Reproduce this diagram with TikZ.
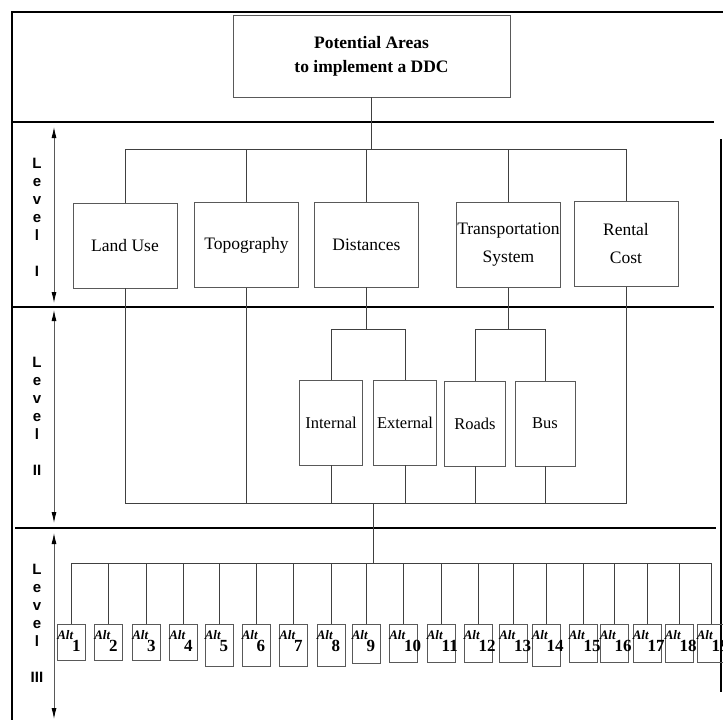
\documentclass[tikz,border=0pt]{standalone}
\usepackage{fontspec}
\setmainfont{Liberation Serif}
\setsansfont{Liberation Sans}
\usetikzlibrary{arrows.meta}
\newcommand{\altlbl}[1]{{\fontsize{13}{13}\selectfont\bfseries\itshape Alt}\kern-1pt\raisebox{-12pt}{\fontsize{17}{17}\selectfont\bfseries #1}}
\newcommand{\lvl}[1]{L\\e\\v\\e\\l\\[18pt]#1}

\begin{document}
\begin{tikzpicture}[x=1pt, y=-1pt,
  box/.style={draw=black!65, line width=0.8pt, inner sep=0pt, align=center, font=\fontsize{17.5}{28}\selectfont},
  boxI/.style={box, minimum width=104, minimum height=85},
  boxII/.style={box, minimum width=63, minimum height=85, font=\fontsize{16.5}{20}\selectfont},
  altbox/.style={draw=black!65, line width=0.8pt, inner sep=0pt, minimum width=28},
  alttxt/.style={inner sep=0pt, anchor=north west},
  conn/.style={draw=black!75, line width=0.8pt},
  sep/.style={line width=1.1pt},
  lvllbl/.style={align=center, font=\sffamily\bfseries\fontsize{15}{18}\selectfont},
  tip/.style={Latex[length=11pt,width=5pt]},
  span/.style={draw=black!65, line width=0.9pt, {Latex[length=11pt,width=5pt,black]}-{Latex[length=11pt,width=5pt,black]}}]
\useasboundingbox (0,0) rectangle (723,720);

\draw[line width=2.5pt] (12,720) -- (12,12) -- (723,12);
\draw[line width=2.5pt] (721,139) -- (721,692);
\draw[sep] (12,122) -- (714,122);
\draw[sep] (12,307) -- (714,307);
\draw[sep] (15,528) -- (716,528);

\node[box, font=\bfseries\fontsize{17.5}{24}\selectfont, minimum width=277, minimum height=82] (goal) at (371.5,56) {Potential Areas\\to implement a DDC};

\node[boxI] (landuse) at (125,245.5) {Land Use};
\node[boxI] (topo) at (246.5,245) {Topography};
\node[boxI] (dist) at (366.5,244.5) {Distances};
\node[boxI] (transp) at (508.5,245) {Transportation\\System};
\node[boxI] (rental) at (626,244) {Rental\\Cost};

\node[boxII] (internal) at (331,422.5) {Internal};
\node[boxII] (external) at (405,422.5) {External};
\node[boxII, minimum width=61] (roads) at (475,423.5) {Roads};
\node[boxII, minimum width=60] (bus) at (545,423.5) {Bus};

\foreach \i/\x/\h in {1/71.5/36, 2/108.5/36, 3/146.5/36, 4/183.5/36, 5/219/42, 6/256/42, 7/293.5/42, 8/331/42, 9/366/39, 10/403.5/38, 11/441/38, 12/478/38, 13/513.5/38, 14/546/42, 15/583/38, 16/614/38, 17/647/38, 18/679/38, 19/711/38}{
  \node[altbox, minimum height=\h, anchor=north] (alt\i) at (\x,624) {};
  \node[alttxt] (altt\i) at ([yshift=-6pt]alt\i.north west) {\altlbl{\i}};
}

\coordinate (busI) at (371,149);
\draw[conn] (goal.south) -- (goal.south |- busI);
\draw[conn] (landuse.north) -- (landuse.north |- busI) -- (rental.north |- busI) -- (rental.north);
\foreach \n in {topo,dist,transp} \draw[conn] (\n.north) -- (\n.north |- busI);

\coordinate (busD) at (0,329);
\draw[conn] (dist.south) -- (dist.south |- busD);
\draw[conn] (internal.north) -- (internal.north |- busD) -- (external.north |- busD) -- (external.north);
\draw[conn] (transp.south) -- (transp.south |- busD);
\draw[conn] (roads.north) -- (roads.north |- busD) -- (bus.north |- busD) -- (bus.north);

\coordinate (busII) at (373,503);
\draw[conn] (landuse.south) -- (landuse.south |- busII) -- (rental.south |- busII) -- (rental.south);
\foreach \n in {topo,internal,external,roads,bus} \draw[conn] (\n.south) -- (\n.south |- busII);
\coordinate (busIII) at (373,563);
\draw[conn] (busII) -- (busIII);
\draw[conn] (alt1.north) -- (alt1.north |- busIII) -- (alt19.north |- busIII) -- (alt19.north);
\foreach \i in {2,...,18} \draw[conn] (alt\i.north) -- (alt\i.north |- busIII);

\node[lvllbl] (lvlI) at (37,217) {\lvl{I}};
\node[lvllbl] (lvlII) at (37,416) {\lvl{II}};
\node[lvllbl] (lvlIII) at (37,623) {\lvl{III}};

\coordinate (spIt) at (54,127);
\coordinate (spIb) at (54,303);
\coordinate (spIIt) at (54,310);
\coordinate (spIIb) at (54,523);
\coordinate (spIIIt) at (54,533);
\coordinate (spIIIb) at (54,719);
\draw[span] (spIt) -- (spIb);
\draw[span] (spIIt) -- (spIIb);
\draw[span] (spIIIt) -- (spIIIb);
\end{tikzpicture}
\end{document}
